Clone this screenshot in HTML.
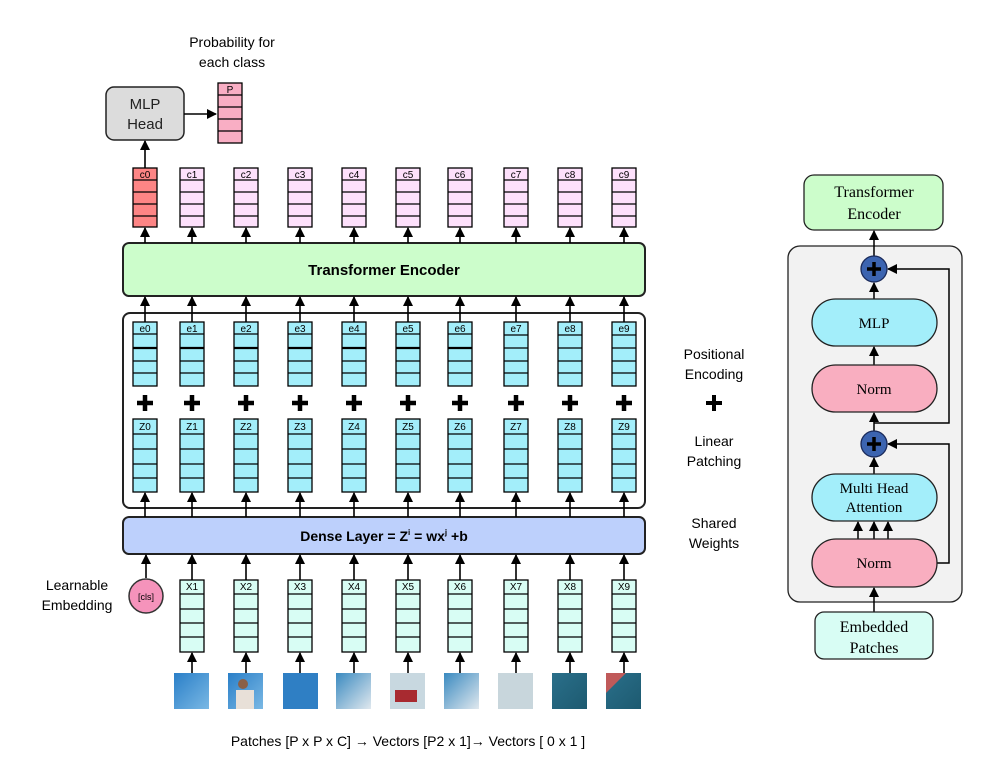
<!DOCTYPE html>
<html><head><meta charset="utf-8"><style>body{margin:0;background:#fff}svg{display:block}</style></head><body>
<svg width="1002" height="765" viewBox="0 0 1002 765" xmlns="http://www.w3.org/2000/svg" font-family="Liberation Sans, sans-serif">
<defs>
<marker id="a" markerWidth="10" markerHeight="10" refX="9" refY="5" orient="auto" markerUnits="userSpaceOnUse"><path d="M0,0 L10,5 L0,10 z" fill="#000"/></marker>
<g id="cb"><rect x="-12" y="168" width="24" height="59" fill="#fde0fb" stroke="#000" stroke-width="1.3"/><path d="M-12 180H12M-12 192H12M-12 204H12M-12 216H12" stroke="#000" stroke-width="1.3"/></g>
<g id="eb"><rect x="-12" y="322" width="24" height="64" fill="#a3eefa" stroke="#000" stroke-width="1.3"/><path d="M-12 334H12M-12 361H12M-12 373H12" stroke="#000" stroke-width="1.3"/><path d="M-12 348H12" stroke="#000" stroke-width="2.2"/></g>
<g id="eb2"><rect x="-12" y="322" width="24" height="64" fill="#a3eefa" stroke="#000" stroke-width="1.3"/><path d="M-12 335H12M-12 348H12M-12 361H12M-12 373H12" stroke="#000" stroke-width="1.3"/></g>
<g id="zb"><rect x="-12" y="419" width="24" height="73" fill="#a3eefa" stroke="#000" stroke-width="1.3"/><path d="M-12 434H12M-12 449H12M-12 464H12M-12 478H12" stroke="#000" stroke-width="1.3"/></g>
<g id="xb"><rect x="-12" y="580" width="24" height="72" fill="#d8fdf4" stroke="#000" stroke-width="1.3"/><path d="M-12 594H12M-12 609H12M-12 623H12M-12 637H12" stroke="#000" stroke-width="1.3"/></g>
<g id="pl"><path d="M-8 403H8M0 395V411" stroke="#000" stroke-width="4.5"/></g>
<g id="ar" stroke="#000" stroke-width="1.6" marker-end="url(#a)">
<line x1="0" y1="243" x2="0" y2="228"/><line x1="0" y1="322" x2="0" y2="297"/><line x1="0" y1="517" x2="0" y2="493"/></g>
<g id="arx" stroke="#000" stroke-width="1.6" marker-end="url(#a)"><line x1="0" y1="580" x2="0" y2="555"/><line x1="0" y1="673" x2="0" y2="653"/></g>
<linearGradient id="g1" x1="0" y1="0" x2="1" y2="1"><stop offset="0" stop-color="#2a7fc8"/><stop offset="1" stop-color="#7ab8e4"/></linearGradient>
<linearGradient id="g2" x1="0" y1="0" x2="1" y2="1"><stop offset="0" stop-color="#3a8ac0"/><stop offset="1" stop-color="#e0e8ee"/></linearGradient>
<linearGradient id="g3" x1="0" y1="0" x2="1" y2="1"><stop offset="0" stop-color="#2a6f8a"/><stop offset="1" stop-color="#1d5a70"/></linearGradient>
</defs>

<text x="232" y="47" font-size="14" text-anchor="middle">Probability for</text>
<text x="232" y="67" font-size="14" text-anchor="middle">each class</text>
<rect x="106" y="87" width="78" height="53" rx="8" fill="#dcdcdc" stroke="#222" stroke-width="1.5"/>
<text x="145" y="109" font-size="15" text-anchor="middle" fill="#222">MLP</text>
<text x="145" y="129" font-size="15" text-anchor="middle" fill="#222">Head</text>
<line x1="184" y1="114" x2="216" y2="114" stroke="#000" stroke-width="1.6" marker-end="url(#a)"/>
<rect x="218" y="83" width="24" height="60" fill="#f9aec4" stroke="#000" stroke-width="1.3"/>
<path d="M218 95H242M218 107H242M218 119H242M218 131H242" stroke="#000" stroke-width="1.3"/>
<text x="230" y="93" font-size="10" text-anchor="middle">P</text>
<line x1="145" y1="168" x2="145" y2="141" stroke="#000" stroke-width="1.6" marker-end="url(#a)"/>

<rect x="123" y="243" width="522" height="53" rx="6" fill="#ccfdcb" stroke="#222" stroke-width="2"/>
<text x="384" y="275" font-size="15" font-weight="bold" text-anchor="middle">Transformer Encoder</text>
<rect x="123" y="313" width="522" height="195" rx="7" fill="none" stroke="#222" stroke-width="2"/>
<rect x="123" y="517" width="522" height="37" rx="6" fill="#bdd0fc" stroke="#222" stroke-width="2"/>
<text x="384" y="541" font-size="14" font-weight="bold" text-anchor="middle">Dense Layer = Z<tspan font-size="8" dy="-6">i</tspan><tspan dy="6">  = wx</tspan><tspan font-size="8" dy="-6">j</tspan><tspan dy="6"> +b</tspan></text>

<g font-size="10" text-anchor="middle">
<g transform="translate(145,0)"><use href="#ar"/><rect x="-12" y="168" width="24" height="59" fill="#fd8585" stroke="#000" stroke-width="1.3"/><path d="M-12 180H12M-12 192H12M-12 204H12M-12 216H12" stroke="#000" stroke-width="1.3"/><use href="#eb"/><use href="#pl"/><use href="#zb"/><text y="178">c0</text><text y="332">e0</text><text y="430">Z0</text></g>
<g transform="translate(192,0)"><use href="#ar"/><use href="#arx"/><use href="#cb"/><use href="#eb"/><use href="#pl"/><use href="#zb"/><use href="#xb"/><text y="178">c1</text><text y="332">e1</text><text y="430">Z1</text><text y="590">X1</text></g>
<g transform="translate(246,0)"><use href="#ar"/><use href="#arx"/><use href="#cb"/><use href="#eb"/><use href="#pl"/><use href="#zb"/><use href="#xb"/><text y="178">c2</text><text y="332">e2</text><text y="430">Z2</text><text y="590">X2</text></g>
<g transform="translate(300,0)"><use href="#ar"/><use href="#arx"/><use href="#cb"/><use href="#eb"/><use href="#pl"/><use href="#zb"/><use href="#xb"/><text y="178">c3</text><text y="332">e3</text><text y="430">Z3</text><text y="590">X3</text></g>
<g transform="translate(354,0)"><use href="#ar"/><use href="#arx"/><use href="#cb"/><use href="#eb"/><use href="#pl"/><use href="#zb"/><use href="#xb"/><text y="178">c4</text><text y="332">e4</text><text y="430">Z4</text><text y="590">X4</text></g>
<g transform="translate(408,0)"><use href="#ar"/><use href="#arx"/><use href="#cb"/><use href="#eb"/><use href="#pl"/><use href="#zb"/><use href="#xb"/><text y="178">c5</text><text y="332">e5</text><text y="430">Z5</text><text y="590">X5</text></g>
<g transform="translate(460,0)"><use href="#ar"/><use href="#arx"/><use href="#cb"/><use href="#eb"/><use href="#pl"/><use href="#zb"/><use href="#xb"/><text y="178">c6</text><text y="332">e6</text><text y="430">Z6</text><text y="590">X6</text></g>
<g transform="translate(516,0)"><use href="#ar"/><use href="#arx"/><use href="#cb"/><use href="#eb2"/><use href="#pl"/><use href="#zb"/><use href="#xb"/><text y="178">c7</text><text y="332">e7</text><text y="430">Z7</text><text y="590">X7</text></g>
<g transform="translate(570,0)"><use href="#ar"/><use href="#arx"/><use href="#cb"/><use href="#eb2"/><use href="#pl"/><use href="#zb"/><use href="#xb"/><text y="178">c8</text><text y="332">e8</text><text y="430">Z8</text><text y="590">X8</text></g>
<g transform="translate(624,0)"><use href="#ar"/><use href="#arx"/><use href="#cb"/><use href="#eb2"/><use href="#pl"/><use href="#zb"/><use href="#xb"/><text y="178">c9</text><text y="332">e9</text><text y="430">Z9</text><text y="590">X9</text></g>
</g>

<line x1="146" y1="578" x2="146" y2="555" stroke="#000" stroke-width="1.6" marker-end="url(#a)"/>
<circle cx="146" cy="596" r="17" fill="#f593bb" stroke="#333" stroke-width="1.5"/>
<text x="146" y="600" font-size="9" text-anchor="middle">[cls]</text>
<text x="77" y="590" font-size="14" text-anchor="middle">Learnable</text>
<text x="77" y="610" font-size="14" text-anchor="middle">Embedding</text>

<rect x="174" y="673" width="35" height="36" fill="url(#g1)"/>
<rect x="228" y="673" width="35" height="36" fill="url(#g1)"/><rect x="236" y="690" width="18" height="19" fill="#e8e0d8"/><circle cx="243" cy="684" r="5" fill="#8a6048"/>
<rect x="283" y="673" width="35" height="36" fill="#2f7fc4"/>
<rect x="336" y="673" width="35" height="36" fill="url(#g2)"/>
<rect x="390" y="673" width="35" height="36" fill="#c8d8e0"/><rect x="395" y="690" width="22" height="12" fill="#a82a30"/>
<rect x="444" y="673" width="35" height="36" fill="url(#g2)"/>
<rect x="498" y="673" width="35" height="36" fill="#c8d6dc"/>
<rect x="552" y="673" width="35" height="36" fill="url(#g3)"/>
<rect x="606" y="673" width="35" height="36" fill="url(#g3)"/><path d="M606 673h20l-20 20z" fill="#c05a5a"/>

<text x="408" y="746" font-size="14" text-anchor="middle">Patches [P x P x C] <tspan font-weight="bold">→</tspan> Vectors [P2 x 1]<tspan font-weight="bold">→</tspan> Vectors [ 0 x 1 ]</text>

<g font-size="14" text-anchor="middle">
<text x="714" y="359">Positional</text><text x="714" y="379">Encoding</text>
<text x="714" y="446">Linear</text><text x="714" y="466">Patching</text>
<text x="714" y="528">Shared</text><text x="714" y="548">Weights</text>
</g>
<path d="M706 403H722M714 395V411" stroke="#000" stroke-width="4"/>

<g font-family="Liberation Serif, serif" text-anchor="middle">
<rect x="804" y="175" width="139" height="55" rx="10" fill="#ccfdcb" stroke="#222" stroke-width="1.3"/>
<text x="874" y="197" font-size="16">Transformer</text><text x="874" y="219" font-size="16">Encoder</text>
<rect x="788" y="246" width="174" height="356" rx="12" fill="#f2f2f2" stroke="#222" stroke-width="1.3"/>
<g stroke="#000" stroke-width="1.5" fill="none">
<line x1="874" y1="256" x2="874" y2="231" marker-end="url(#a)"/>
<line x1="874" y1="299" x2="874" y2="283" marker-end="url(#a)"/>
<line x1="874" y1="365" x2="874" y2="347" marker-end="url(#a)"/>
<line x1="874" y1="431" x2="874" y2="413" marker-end="url(#a)"/>
<line x1="874" y1="474" x2="874" y2="458" marker-end="url(#a)"/>
<line x1="874" y1="612" x2="874" y2="588" marker-end="url(#a)"/>
<line x1="858" y1="539" x2="858" y2="522" marker-end="url(#a)"/>
<line x1="874" y1="539" x2="874" y2="522" marker-end="url(#a)"/>
<line x1="888" y1="539" x2="888" y2="522" marker-end="url(#a)"/>
<path d="M874 423H949V269H888" marker-end="url(#a)"/>
<path d="M937 563H949V444H888" marker-end="url(#a)"/>
</g>
<rect x="812" y="299" width="125" height="47" rx="23.5" fill="#a3eefa" stroke="#222" stroke-width="1.3"/>
<text x="874" y="328" font-size="15">MLP</text>
<rect x="812" y="365" width="125" height="47" rx="23.5" fill="#f9aec0" stroke="#222" stroke-width="1.3"/>
<text x="874" y="394" font-size="15">Norm</text>
<rect x="812" y="474" width="125" height="47" rx="23.5" fill="#a3eefa" stroke="#222" stroke-width="1.3"/>
<text x="874" y="493" font-size="15">Multi Head</text><text x="874" y="512" font-size="15">Attention</text>
<rect x="812" y="539" width="125" height="48" rx="24" fill="#f9aec0" stroke="#222" stroke-width="1.3"/>
<text x="874" y="568" font-size="15">Norm</text>
<rect x="815" y="612" width="118" height="47" rx="9" fill="#d8fdf4" stroke="#222" stroke-width="1.3"/>
<text x="874" y="632" font-size="16">Embedded</text><text x="874" y="653" font-size="16">Patches</text>
<circle cx="874" cy="269" r="13" fill="#3c64b0" stroke="#1a2a5a" stroke-width="1.3"/>
<path d="M867 269H881M874 262V276" stroke="#000" stroke-width="3.5"/>
<circle cx="874" cy="444" r="13" fill="#3c64b0" stroke="#1a2a5a" stroke-width="1.3"/>
<path d="M867 444H881M874 437V451" stroke="#000" stroke-width="3.5"/>
</g>
</svg>
</body></html>
